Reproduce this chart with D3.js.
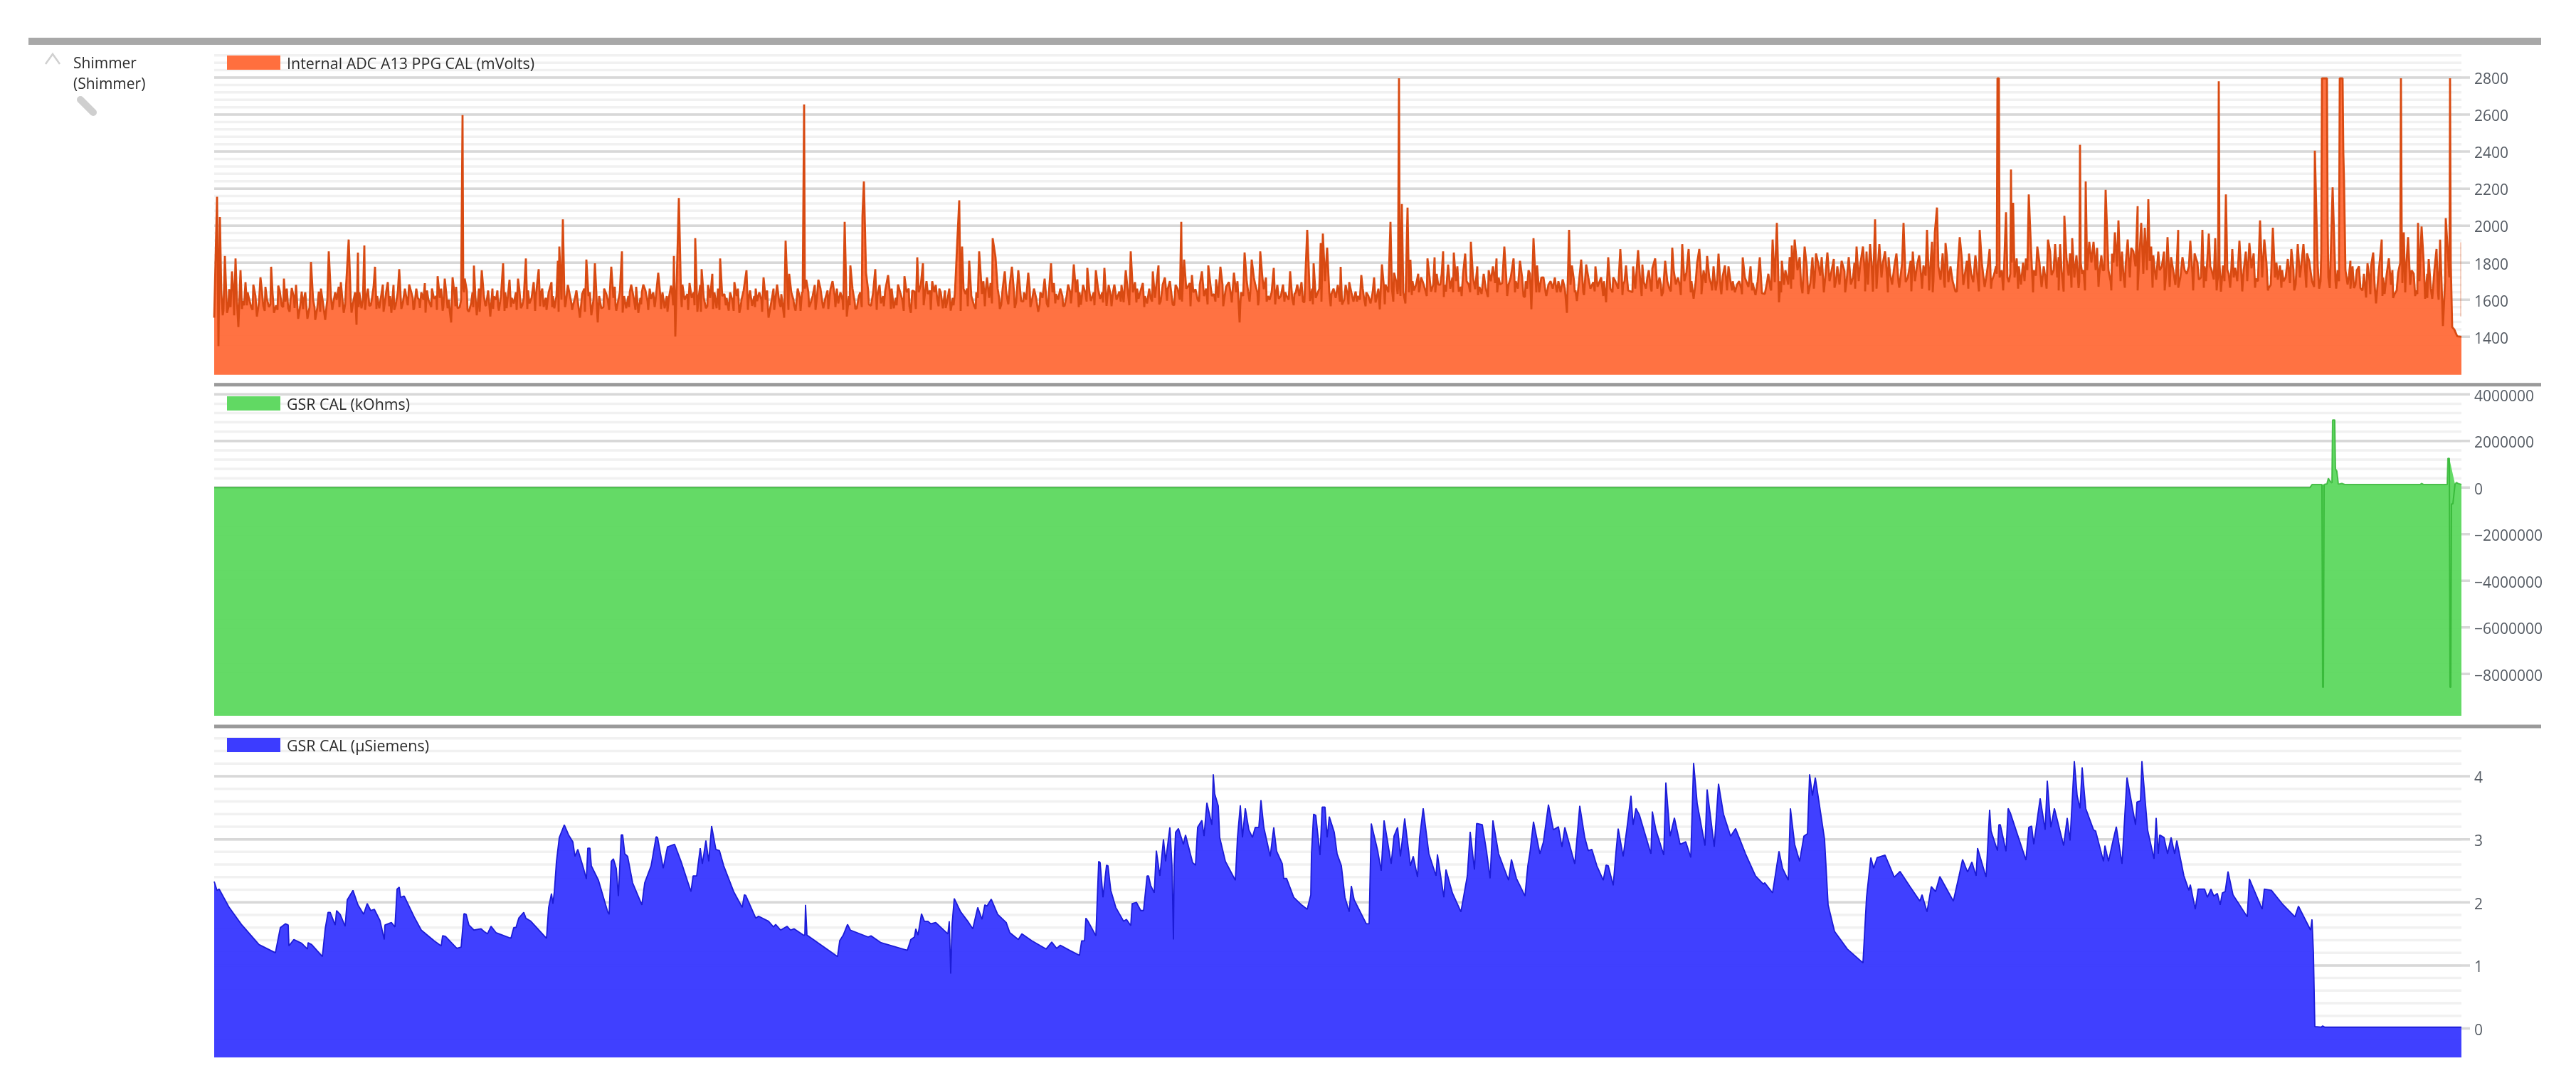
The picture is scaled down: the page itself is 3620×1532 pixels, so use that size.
<!DOCTYPE html>
<html><head><meta charset="utf-8">
<script src="https://cdn.jsdelivr.net/npm/d3@7"></script>
<style>
html,body{margin:0;padding:0;background:#fff;overflow:hidden}
svg{display:block;filter:blur(0.55px)}
text{font-family:"Open Sans","Noto Sans",sans-serif}
</style></head><body>
<svg id="chart" width="3620" height="1532"></svg>
<script>
const deviceLabel = ["Shimmer", "(Shimmer)"];
const ppgLabel = "Internal ADC A13 PPG CAL (mVolts)";
const kohmLabel = "GSR CAL (kOhms)";
const siemensLabel = "GSR CAL (µSiemens)";
const ppgTicks = [2800,2600,2400,2200,2000,1800,1600,1400];
const kohmTicks = [4000000,2000000,0,-2000000,-4000000,-6000000,-8000000];
const siemensTicks = [4,3,2,1,0];
const ppgEndTrace = [[3157,1510],[3157,1910]];

const ppgPeaks = [[0,1503],[4,2156],[6,1349],[8,2047],[12,1516],[15,1836],[18,1529],[21,1657],[25,1753],[28,1516],[30,1823],[34,1452],[37,1759],[40,1593],[44,1695],[49,1605],[55,1682],[60,1509],[65,1721],[69,1567],[74,1605],[80,1778],[84,1529],[90,1676],[95,1567],[98,1714],[104,1554],[109,1663],[118,1497],[123,1644],[131,1497],[136,1804],[142,1491],[147,1644],[156,1491],[161,1861],[167,1573],[172,1599],[178,1695],[182,1529],[189,1925],[195,1580],[200,1465],[202,1855],[207,1554],[211,1893],[218,1567],[226,1778],[232,1554],[237,1682],[244,1695],[249,1529],[260,1765],[265,1580],[274,1682],[281,1554],[288,1599],[296,1689],[303,1580],[309,1605],[314,1727],[321,1541],[324,1714],[328,1554],[333,1477],[335,1721],[342,1554],[349,2597],[352,1714],[358,1535],[365,1784],[369,1516],[376,1759],[382,1567],[388,1509],[393,1618],[400,1541],[406,1797],[411,1554],[415,1708],[421,1580],[427,1714],[431,1554],[438,1823],[443,1580],[449,1695],[456,1765],[463,1561],[474,1695],[478,1554],[483,1810],[485,1887],[490,2034],[494,1580],[502,1580],[509,1650],[514,1503],[523,1817],[530,1516],[535,1797],[539,1477],[544,1554],[551,1631],[558,1778],[565,1541],[573,1861],[579,1554],[586,1682],[596,1529],[603,1682],[614,1605],[624,1746],[633,1554],[642,1676],[646,1836],[648,1401],[653,2149],[658,1682],[665,1631],[676,1932],[679,1535],[685,1765],[691,1554],[700,1740],[706,1554],[711,1823],[717,1631],[723,1541],[731,1695],[738,1529],[748,1759],[756,1567],[763,1593],[772,1721],[779,1503],[791,1682],[801,1503],[803,1919],[808,1740],[817,1541],[829,2655],[832,1708],[838,1580],[849,1708],[856,1554],[866,1657],[877,1580],[886,2021],[889,1509],[894,1785],[903,1554],[911,2053],[913,2239],[916,1746],[923,1567],[929,1765],[937,1580],[947,1733],[955,1554],[961,1682],[970,1727],[979,1529],[984,1644],[988,1829],[996,1797],[1003,1631],[1016,1605],[1024,1554],[1035,1541],[1044,1893],[1047,2137],[1051,1887],[1056,1631],[1061,1810],[1068,1567],[1075,1861],
[1079,1631],[1086,1721],[1094,1932],[1098,1829],[1106,1573],[1111,1753],[1115,1593],[1121,1778],[1127,1586],[1130,1759],[1134,1593],[1144,1746],[1149,1593],[1158,1535],[1167,1714],[1170,1580],[1176,1797],[1183,1631],[1195,1567],[1200,1682],[1208,1791],[1218,1573],[1227,1772],[1232,1593],[1239,1759],[1245,1605],[1251,1772],[1254,1567],[1265,1682],[1272,1644],[1278,1586],[1281,1759],[1288,1861],[1294,1695],[1299,1605],[1311,1580],[1319,1753],[1327,1785],[1333,1682],[1340,1657],[1347,1573],[1354,1657],[1359,2021],[1363,1817],[1368,1669],[1374,1733],[1379,1657],[1388,1753],[1397,1785],[1405,1631],[1414,1778],[1419,1593],[1426,1695],[1433,1746],[1441,1477],[1448,1855],[1453,1644],[1458,1817],[1463,1682],[1470,1861],[1475,1657],[1483,1599],[1489,1772],[1496,1605],[1502,1682],[1512,1753],[1515,1605],[1522,1682],[1528,1695],[1532,1586],[1536,1977],[1540,1593],[1545,1797],[1550,1631],[1555,1906],[1558,1957],[1564,1881],[1570,1631],[1583,1778],[1585,1573],[1595,1695],[1604,1644],[1612,1733],[1616,1605],[1625,1580],[1630,1721],[1638,1548],[1641,1791],[1646,1682],[1653,2021],[1658,1746],[1663,1631],[1665,2796],[1669,2117],[1674,1580],[1677,2098],[1681,1816],[1689,1682],[1696,1721],[1705,1823],[1710,1644],[1715,1829],[1720,1682],[1727,1861],[1731,1644],[1742,1855],[1749,1644],[1758,1849],[1763,1682],[1766,1913],[1772,1657],[1781,1631],[1791,1759],[1802,1823],[1807,1682],[1813,1887],[1819,1682],[1826,1823],[1835,1810],[1840,1618],[1847,1759],[1851,1548],[1854,1932],[1859,1785],[1868,1721],[1875,1682],[1886,1657],[1901,1529],[1904,1977],[1908,1785],[1915,1593],[1921,1817],[1931,1721],[1938,1695],[1949,1721],[1956,1586],[1959,1829],[1966,1721],[1976,1874],[1980,1682],[1984,1785],[1991,1644],[2001,1868],[2009,1695],[2016,1759],[2025,1823],[2033,1682],[2039,1810],[2049,1881],[2054,1682],[2063,1900],[2072,1874],[2079,1605],[2087,1874],[2093,1759],[2098,1836],[2110,1650],[2114,1849],[2123,1785],[2131,1695],[2140,1682],[2148,1829],[2156,1669],[2166,1625],[2172,1829],
[2179,1631],[2184,1740],[2190,1925],[2193,1695],[2196,2015],[2199,1586],[2203,1810],[2208,1759],[2212,1682],[2217,1893],[2221,1925],[2225,1759],[2230,1682],[2235,1887],[2240,1631],[2246,1829],[2254,1797],[2261,1708],[2267,1855],[2273,1759],[2284,1682],[2291,1753],[2300,1682],[2308,1887],[2313,1785],[2317,1887],[2324,1682],[2327,1900],[2331,1644],[2334,2034],[2340,1900],[2348,1861],[2358,1682],[2364,1849],[2370,1733],[2374,2015],[2377,1695],[2384,1810],[2393,1785],[2402,1785],[2407,1977],[2410,1650],[2414,1913],[2418,1964],[2421,2098],[2426,1708],[2433,1906],[2437,1695],[2447,1644],[2453,1938],[2460,1733],[2466,1849],[2472,1695],[2481,1977],[2488,1669],[2495,1874],[2501,1733],[2506,2796],[2508,2796],[2512,1759],[2518,2073],[2522,1695],[2525,2303],[2528,2124],[2533,1823],[2539,1682],[2546,1823],[2550,2169],[2553,1887],[2557,1759],[2562,1887],[2568,1669],[2577,1925],[2582,1733],[2587,1900],[2594,1900],[2599,1644],[2600,2053],[2603,1823],[2611,1932],[2620,1663],[2622,2437],[2627,1759],[2630,2239],[2635,1913],[2641,1913],[2649,1733],[2654,1759],[2658,2194],[2662,1759],[2667,1849],[2671,1964],[2676,2028],[2683,1733],[2689,1925],[2697,1861],[2703,2105],[2708,2015],[2713,1989],[2718,2143],[2722,1887],[2729,1708],[2734,1759],[2745,1938],[2748,1669],[2753,1759],[2760,1977],[2769,1759],[2777,1919],[2785,1823],[2789,1708],[2794,1977],[2801,1823],[2803,1957],[2807,1759],[2812,1932],[2817,2780],[2820,1644],[2823,1785],[2827,2169],[2831,1740],[2836,1874],[2840,1772],[2846,1919],[2852,1759],[2860,1906],[2869,1714],[2875,2028],[2881,1925],[2887,1663],[2893,1989],[2900,1708],[2903,1785],[2911,1721],[2919,1874],[2925,1682],[2928,1900],[2936,1900],[2944,1810],[2951,1669],[2952,2405],[2956,1785],[2962,2796],[2969,2796],[2973,1663],[2977,2207],[2984,1759],[2987,2796],[2991,2796],[2993,2245],[2998,1682],[3002,1810],[3007,1663],[3011,1759],[3016,1663],[3024,1612],[3026,1797],[3034,1855],[3038,1580],[3046,1925],[3050,1631],[3056,1823],[3064,1631],[3069,1746],[3073,2796],[3077,1964],[3083,1938],[3088,1759],[3096,1631],[3097,2015],[3102,1996],[3107,1605],[3117,1605],[3123,1874],[3128,1925],[3132,1458],[3136,2041],[3142,2796],[3145,1452],[3148,1439],[3152,1403],[3158,1400]];

// finer oscillation of the trace between the main peaks, estimated from the zoomed picture
const ppgDetail = [[10,1640],[23,1560],[27,1640],[32,1590],[36,1660],[42,1570],[47,1640],[52,1560],[58,1620],[63,1590],[67,1650],[72,1670],[77,1560],[82,1640],[87,1570],[92,1650],[100,1590],[102,1660],[107,1590],[112,1610],[115,1680],[121,1570],[126,1600],[128,1640],[134,1560],[139,1600],[145,1560],[150,1660],[153,1580],[159,1600],[164,1620],[170,1640],[175,1670],[180,1610],[185,1650],[192,1590],[198,1640],[204,1640],[209,1600],[214,1620],[216,1660],[221,1590],[224,1670],[229,1620],[235,1630],[240,1590],[242,1650],[247,1620],[252,1680],[255,1570],[258,1640],[262,1620],[268,1660],[271,1590],[277,1640],[279,1610],[284,1660],[286,1610],[291,1640],[294,1600],[299,1650],[301,1600],[306,1660],[312,1620],[317,1610],[319,1660],[326,1640],[330,1600],[338,1620],[340,1670],[345,1560],[347,1600],[351,1640],[355,1650],[361,1580],[363,1640],[367,1620],[372,1660],[374,1600],[379,1620],[385,1650],[391,1660],[396,1600],[398,1650],[403,1620],[409,1640],[413,1630],[418,1610],[424,1640],[429,1650],[435,1610],[441,1650],[446,1610],[452,1620],[459,1630],[461,1660],[466,1610],[470,1640],[476,1620],[481,1620],[488,1600],[492,1640],[497,1680],[500,1620],[505,1580],[507,1610],[511,1590],[517,1630],[520,1660],[526,1620],[528,1640],[533,1600],[537,1640],[541,1620],[548,1660],[553,1600],[556,1640],[561,1610],[563,1670],[568,1600],[570,1640],[576,1620],[582,1620],[584,1640],[590,1600],[593,1670],[599,1610],[601,1640],[606,1650],[609,1590],[612,1660],[617,1640],[620,1590],[627,1620],[630,1640],[636,1620],[639,1610],[644,1620],[656,1630],[661,1600],[668,1690],[671,1610],[674,1640],[681,1620],[683,1680],[688,1610],[694,1680],[697,1610],[703,1640],[708,1660],[714,1620],[720,1610],[725,1640],[728,1600],[734,1620],[736,1660],[741,1600],[744,1650],[751,1600],[753,1650],[759,1620],[761,1660],[766,1640],[769,1600],[775,1600],[777,1650],[783,1590],[786,1660],[794,1590],[797,1630],[806,1620],[811,1640],[814,1600],[820,1660],[823,1610],[826,1640],[835,1640],[841,1620],[844,1680],[847,1610],[852,1660],[859,1610],[862,1650],[869,1700],[872,1620],[875,1660],[880,1640],[883,1600],[892,1620],[897,1660],[900,1590],[906,1620],[908,1640],[919,1650],[926,1640],[932,1620],[935,1680],[940,1620],[943,1650],[950,1620],[952,1660],[958,1610],[964,1640],[967,1600],[973,1640],[976,1660],[981,1650],[990,1640],[993,1680],[999,1640],[1001,1700],[1006,1650],[1009,1700],[1012,1640],[1014,1680],[1019,1660],[1021,1640],[1027,1650],[1030,1590],[1033,1660],[1038,1610],[1041,1640],[1053,1660],[1058,1660],[1064,1620],[1071,1640],[1073,1610],
[1081,1700],[1084,1640],[1089,1610],[1091,1690],[1101,1660],[1103,1610],[1108,1660],[1113,1640],[1118,1680],[1124,1640],[1138,1640],[1141,1600],[1146,1660],[1152,1660],[1155,1610],[1161,1640],[1164,1610],[1173,1640],[1178,1640],[1180,1690],[1186,1600],[1189,1660],[1192,1620],[1198,1620],[1203,1640],[1205,1620],[1211,1640],[1213,1710],[1216,1640],[1221,1680],[1224,1640],[1230,1640],[1236,1640],[1242,1660],[1248,1640],[1257,1680],[1260,1620],[1263,1640],[1268,1600],[1275,1680],[1284,1640],[1291,1640],[1297,1660],[1302,1650],[1305,1690],[1308,1620],[1314,1660],[1316,1610],[1322,1610],[1324,1680],[1330,1590],[1336,1720],[1343,1700],[1350,1620],[1351,1680],[1357,1600],[1366,1660],[1371,1690],[1376,1640],[1382,1600],[1385,1680],[1391,1620],[1394,1660],[1400,1680],[1402,1620],[1408,1710],[1411,1610],[1417,1680],[1422,1670],[1429,1620],[1436,1640],[1438,1700],[1443,1640],[1446,1620],[1451,1700],[1456,1640],[1461,1720],[1466,1640],[1468,1600],[1473,1720],[1478,1720],[1481,1620],[1486,1640],[1492,1620],[1494,1680],[1499,1620],[1505,1640],[1507,1620],[1510,1600],[1518,1630],[1520,1640],[1525,1620],[1543,1660],[1548,1610],[1553,1660],[1561,1700],[1567,1640],[1573,1660],[1576,1610],[1579,1680],[1588,1600],[1590,1680],[1593,1620],[1598,1640],[1601,1590],[1607,1620],[1610,1600],[1614,1660],[1619,1640],[1622,1620],[1628,1640],[1633,1600],[1636,1660],[1644,1660],[1650,1640],[1655,1660],[1661,1700],[1667,1620],[1671,1640],[1679,1640],[1684,1700],[1686,1650],[1692,1740],[1694,1660],[1699,1690],[1702,1650],[1708,1720],[1713,1680],[1718,1740],[1723,1680],[1725,1740],[1729,1680],[1734,1790],[1737,1660],[1740,1720],[1745,1700],[1747,1780],[1752,1670],[1755,1740],[1760,1700],[1769,1720],[1775,1780],[1778,1670],[1784,1740],[1787,1660],[1794,1700],[1797,1780],[1800,1690],[1805,1720],[1810,1690],[1816,1700],[1822,1720],[1829,1700],[1832,1660],[1838,1720],[1843,1700],[1845,1660],[1849,1740],[1857,1700],[1862,1640],[1865,1720],[1871,1640],[1878,1700],[1881,1660],[1884,1720],[1889,1700],[1892,1640],[1895,1710],[1898,1660],[1906,1680],[1911,1700],[1913,1650],[1918,1700],[1924,1640],[1928,1790],[1934,1660],[1941,1780],[1944,1670],[1947,1700],[1953,1700],[1962,1660],[1969,1700],[1973,1660],[1978,1740],[1982,1700],[1987,1650],[1994,1780],[1997,1660],[2004,1700],[2007,1790],[2012,1660],[2014,1720],[2019,1660],[2021,1770],[2028,1660],[2031,1720],[2036,1640],[2042,1700],[2045,1660],[2051,1760],[2057,1720],[2060,1670],[2066,1700],[2069,1750],[2076,1700],[2082,1700],[2084,1800],[2090,1700],[2096,1690],[2101,1720],[2104,1680],[2107,1780],[2112,1700],[2117,1660],[2120,1730],[2126,1650],[2128,1780],[2134,1700],[2137,1640],[2143,1700],[2146,1660],[2151,1720],[2153,1700],[2159,1780],[2162,1690],[2169,1700],
[2182,1690],[2187,1660],[2201,1700],[2206,1680],[2214,1830],[2219,1710],[2228,1830],[2233,1720],[2238,1780],[2243,1690],[2249,1700],[2251,1850],[2257,1730],[2259,1830],[2264,1720],[2270,1700],[2276,1820],[2279,1700],[2281,1780],[2287,1810],[2294,1700],[2297,1830],[2303,1720],[2305,1800],[2311,1700],[2320,1720],[2322,1860],[2329,1800],[2337,1720],[2343,1720],[2345,1800],[2351,1720],[2353,1830],[2355,1740],[2361,1780],[2367,1690],[2372,1800],[2380,1720],[2387,1860],[2390,1700],[2396,1840],[2399,1720],[2405,1730],[2412,1800],[2416,1700],[2423,1780],[2429,1850],[2431,1690],[2435,1830],[2440,1780],[2443,1700],[2450,1760],[2456,1820],[2458,1680],[2463,1810],[2469,1740],[2475,1840],[2478,1720],[2484,1800],[2491,1740],[2493,1800],[2498,1700],[2504,1780],[2515,1740],[2520,1720],[2530,1720],[2536,1780],[2542,1800],[2544,1700],[2548,1760],[2555,1720],[2560,1730],[2565,1800],[2571,1780],[2574,1700],[2580,1860],[2585,1760],[2590,1720],[2592,1830],[2596,1760],[2606,1730],[2608,1850],[2614,1720],[2617,1840],[2625,1740],[2632,1760],[2638,1800],[2644,1760],[2646,1880],[2652,1840],[2656,1760],[2665,1700],[2669,1800],[2674,1780],[2679,1700],[2681,1860],[2686,1780],[2692,1720],[2694,1880],[2700,1780],[2705,1800],[2711,1740],[2716,1760],[2720,1810],[2725,1840],[2727,1760],[2732,1860],[2737,1780],[2740,1860],[2743,1740],[2750,1830],[2756,1680],[2758,1800],[2763,1720],[2766,1830],[2772,1740],[2775,1780],[2780,1740],[2783,1850],[2787,1800],[2792,1720],[2797,1780],[2799,1700],[2805,1780],[2810,1710],[2815,1700],[2825,1700],[2829,1760],[2834,1720],[2838,1720],[2843,1700],[2849,1720],[2855,1860],[2857,1700],[2863,1770],[2866,1850],[2872,1700],[2878,1720],[2884,1800],[2890,1680],[2896,1720],[2898,1800],[2906,1760],[2908,1700],[2914,1820],[2917,1690],[2922,1760],[2931,1720],[2933,1790],[2939,1720],[2941,1850],[2948,1700],[2960,1700],[2971,1720],[2981,1700],[2986,1700],[2995,1760],[3000,1730],[3005,1780],[3009,1680],[3014,1780],[3019,1650],[3021,1740],[3029,1700],[3031,1780],[3036,1680],[3041,1720],[3043,1800],[3048,1720],[3053,1740],[3059,1680],[3061,1760],[3067,1650],[3075,1690],[3080,1750],[3086,1680],[3091,1740],[3094,1650],[3099,1700],[3105,1800],[3110,1740],[3112,1820],[3115,1660],[3120,1760],[3125,1640],[3130,1700],[3135,1700],[3141,1720],
[347,1640],[350,1660],[827,1640],[830,1660],[1663.5,1660],[1666,1700],[2505,1740],[2509,1720],[2524,1740],[2526,1800],[2621,1700],[2623,1800],[2816,1720],[2818,1800],[2961,1850],[2970,2000],[2986,1860],[2992,2400],[3072,1800],[3074,2000],[3141.5,2050],[3143,1800]];

// the lower edge of the noisy band, estimated from the zoomed picture
const ppgDips = [[13,1540],[20,1560],[39,1550],[46,1570],[54,1545],[62,1560],[71,1540],[79,1575],[89,1545],[97,1560],[106,1535],[113,1555],[125,1550],[133,1540],[141,1560],[149,1535],[158,1570],[166,1545],[176,1560],[184,1575],[193,1530],[203,1560],[212,1545],[220,1570],[228,1550],[238,1535],[246,1565],[253,1545],[263,1550],[272,1570],[280,1545],[289,1555],[297,1530],[305,1560],[313,1545],[322,1560],[331,1540],[339,1565],[356,1545],[364,1560],[373,1535],[381,1570],[392,1550],[399,1565],[408,1540],[417,1560],[425,1545],[433,1570],[440,1550],[451,1540],[458,1565],[467,1545],[475,1560],[484,1535],[493,1560],[503,1545],[512,1560],[521,1535],[529,1570],[538,1545],[547,1560],[555,1545],[564,1570],[574,1530],[583,1560],[592,1545],[600,1575],[610,1545],[619,1560],[628,1550],[637,1535],[645,1570],[657,1560],[666,1545],[675,1570],[684,1535],[693,1565],[701,1550],[710,1545],[719,1570],[730,1540],[740,1565],[750,1545],[760,1560],[770,1535],[778,1570],[787,1545],[796,1560],[807,1545],[815,1570],[824,1540],[836,1560],[845,1545],[855,1575],[863,1550],[873,1560],[884,1545],[893,1570],[901,1550],[910,1560],[920,1575],[931,1545],[941,1565],[951,1550],[959,1570],[969,1540],[977,1565],[986,1550],[997,1570],[1007,1545],[1018,1565],[1028,1555],[1039,1570],[1049,1540],[1059,1565],[1070,1550],[1083,1565],[1093,1580],[1104,1550],[1116,1575],[1125,1555],[1137,1590],[1147,1560],[1160,1575],[1172,1560],[1182,1580],[1193,1565],[1204,1580],[1215,1560],[1226,1590],[1237,1570],[1249,1585],[1261,1565],[1274,1590],[1286,1570],[1296,1585],[1307,1560],[1318,1590],[1328,1575],[1339,1595],[1349,1570],[1360,1590],[1372,1565],[1384,1590],[1396,1575],[1407,1590],[1418,1565],[1430,1585],[1442,1575],[1455,1590],[1467,1570],[1479,1590],[1491,1575],[1504,1590],[1517,1570],[1530,1590],[1544,1575],[1556,1590],[1569,1565],[1582,1590],[1594,1575],[1606,1590],[1618,1565],[1632,1585],[1645,1575],[1657,1590],[1683,1625],[1693,1640],[1704,1620],[1716,1640],[1728,1615],[1741,1640],[1753,1620],[1765,1640],[1776,1625],[1790,1615],[1803,1640],[1817,1620],[1828,1640],[1842,1615],[1858,1640],[1872,1620],[1887,1640],[1899,1620],[1912,1640],[1925,1625],[1940,1645],[1952,1620],[1965,1640],[1979,1625],[1993,1640],[2006,1620],[2020,1645],[2034,1620],[2047,1645],[2061,1625],[2075,1640],[2090,1630],[2105,1650],[2118,1630],[2133,1650],[2147,1630],[2161,1650],[2175,1635],[2188,1650],[2202,1640],[2216,1660],[2232,1635],[2248,1660],[2262,1640],[2277,1665],[2292,1640],[2306,1660],[2320,1645],[2336,1660],[2352,1640],[2368,1665],[2385,1645],[2400,1660],[2415,1640],[2432,1665],[2449,1645],[2465,1660],[2480,1645],[2497,1660],[2514,1650],[2535,1660],[2556,1640],[2575,1660],[2592,1650],[2610,1665],[2629,1650],[2648,1670],[2666,1650],[2685,1665],[2703,1650],[2724,1665],[2741,1650],[2760,1665],[2781,1650],[2796,1665],[2814,1650],[2833,1665],[2850,1645],[2868,1665],[2886,1650],[2905,1665],[2923,1650],[2940,1665],[2958,1660],[2982,1660],[3002,1660],[3030,1630],[3047,1620],[3062,1610],[3079,1640],[3093,1620],[3110,1610],[3126,1600]];

const ppgSamples = d3.sort(d3.merge([ppgPeaks, ppgDetail, ppgDips]), d => d[0]);

const kohmSamples = [[0,0],[2945,0],[2948,130000],[2962,130000],[2963,-8570000],[2964,-8570000],[2965,130000],[2969,160000],[2971,400000],[2973,300000],[2976,200000],[2977,2900000],[2980,2900000],[2981,800000],[2983,700000],[2985,150000],[2990,180000],[2994,130000],[3100,130000],[3102,180000],[3105,130000],[3138,130000],[3139,1250000],[3141,1250000],[3142,-8570000],[3143,-8570000],[3144,-700000],[3146,-700000],[3149,150000],[3151,220000],[3153,180000],[3158,130000]];

const siemensSamples = [[0,2.33],[4,2.19],[7,2.21],[21,1.92],[39,1.64],[63,1.33],[86,1.20],[93,1.60],[100,1.66],[104,1.64],[105,1.31],[112,1.41],[123,1.35],[131,1.26],[132,1.36],[137,1.33],[152,1.14],[156,1.58],[160,1.84],[163,1.84],[170,1.64],[172,1.87],[177,1.81],[184,1.62],[187,2.04],[195,2.19],[202,1.96],[210,1.81],[215,1.98],[220,1.87],[225,1.89],[233,1.71],[239,1.41],[240,1.64],[249,1.68],[254,1.61],[257,2.21],[260,2.24],[262,2.08],[267,2.10],[281,1.77],[291,1.56],[309,1.39],[319,1.31],[321,1.47],[325,1.46],[341,1.27],[347,1.29],[351,1.82],[354,1.81],[358,1.64],[365,1.56],[375,1.58],[379,1.54],[384,1.50],[389,1.62],[396,1.52],[417,1.43],[421,1.60],[424,1.60],[428,1.75],[435,1.84],[438,1.75],[445,1.70],[467,1.43],[470,1.92],[474,2.14],[476,1.98],[478,2.17],[481,2.65],[485,3.03],[492,3.23],[498,3.07],[504,2.96],[507,2.73],[511,2.84],[519,2.54],[523,2.37],[525,2.86],[528,2.86],[530,2.58],[540,2.35],[553,1.85],[555,1.81],[558,2.65],[561,2.69],[565,2.54],[568,2.10],[572,3.07],[574,3.07],[577,2.77],[581,2.73],[588,2.31],[601,1.96],[605,2.31],[614,2.58],[621,3.04],[623,3.03],[631,2.54],[637,2.88],[647,2.92],[656,2.65],[670,2.17],[673,2.42],[678,2.42],[683,2.86],[686,2.61],[691,2.98],[695,2.65],[699,3.21],[705,2.84],[710,2.82],[716,2.58],[730,2.17],[742,1.92],[745,2.12],[747,2.11],[761,1.75],[765,1.78],[779,1.70],[786,1.61],[789,1.65],[796,1.56],[805,1.62],[810,1.56],[815,1.58],[828,1.48],[830,1.48],[831,1.96],[833,1.48],[876,1.14],[879,1.39],[884,1.48],[890,1.65],[894,1.56],[919,1.45],[923,1.47],[937,1.36],[974,1.24],[979,1.41],[984,1.45],[986,1.58],[989,1.48],[994,1.82],[998,1.70],[1003,1.70],[1007,1.66],[1014,1.68],[1031,1.50],[1033,1.70],[1035,0.87],[1037,1.66],[1040,2.06],[1049,1.85],[1059,1.70],[1066,1.58],[1073,1.92],
[1079,1.73],[1083,1.96],[1086,1.94],[1092,2.05],[1101,1.81],[1113,1.68],[1118,1.52],[1130,1.41],[1135,1.50],[1149,1.39],[1169,1.26],[1177,1.37],[1184,1.27],[1189,1.32],[1202,1.24],[1216,1.16],[1219,1.39],[1223,1.39],[1225,1.75],[1228,1.70],[1239,1.47],[1243,2.65],[1245,2.63],[1249,2.08],[1254,2.59],[1256,2.58],[1260,2.19],[1267,1.92],[1278,1.70],[1282,1.73],[1288,1.63],[1290,1.98],[1296,2.00],[1302,1.87],[1306,1.87],[1311,2.42],[1313,2.42],[1316,2.27],[1321,2.15],[1324,2.82],[1329,2.42],[1334,3.00],[1337,2.65],[1343,3.19],[1346,2.58],[1348,1.41],[1349,2.58],[1351,3.11],[1355,3.17],[1362,2.92],[1365,3.07],[1375,2.63],[1379,2.59],[1382,3.19],[1388,3.30],[1391,3.05],[1395,3.58],[1402,3.23],[1404,4.03],[1406,3.72],[1411,3.53],[1413,3.03],[1421,2.65],[1435,2.35],[1438,3.03],[1442,3.54],[1445,3.03],[1449,3.49],[1454,3.15],[1459,3.03],[1463,3.19],[1468,3.19],[1471,3.62],[1475,3.19],[1484,2.73],[1489,3.19],[1493,2.81],[1501,2.61],[1503,2.38],[1507,2.38],[1517,2.08],[1528,1.96],[1536,1.89],[1541,2.12],[1542,2.77],[1545,3.40],[1548,3.38],[1554,2.75],[1557,3.51],[1561,3.51],[1564,3.03],[1567,3.36],[1574,3.11],[1578,2.77],[1584,2.58],[1589,2.08],[1595,1.85],[1598,2.26],[1602,2.04],[1619,1.66],[1623,1.66],[1626,3.25],[1635,2.82],[1640,2.50],[1644,3.30],[1649,2.96],[1654,2.61],[1658,3.05],[1663,3.19],[1667,2.73],[1673,3.33],[1681,2.58],[1685,2.73],[1691,2.40],[1694,3.03],[1699,3.49],[1707,2.77],[1717,2.42],[1719,2.76],[1728,2.08],[1731,2.52],[1740,2.15],[1752,1.85],[1761,2.42],[1765,3.12],[1771,2.52],[1774,3.25],[1782,3.23],[1788,2.81],[1793,2.38],[1797,3.30],[1805,2.77],[1819,2.35],[1823,2.68],[1830,2.38],[1842,2.10],[1846,2.58],[1849,2.79],[1854,3.28],[1863,2.77],[1868,2.96],[1875,3.55],[1882,3.15],[1889,3.20],[1894,2.88],[1898,3.19],[1912,2.61],[1919,3.53],[1926,3.03],[1931,2.82],[1936,2.84],[1943,2.58],[1952,2.35],[1956,2.59],[1959,2.58],[1966,2.27],[1970,2.81],[1973,3.17],[1980,2.73],[1985,3.15],[1991,3.69],[1994,3.23],[1998,3.49],[2003,3.38],[2019,2.77],[2021,3.44],[2026,3.15],[2037,2.75],[2040,3.90],[2046,3.05],[2052,3.34],[2060,2.92],[2068,2.96],[2075,2.71],[2079,4.21],[2084,3.57],[2095,2.90],[2098,3.79],[2108,2.88],[2114,3.88],[2121,3.40],[2131,3.05],[2138,3.17],[2152,2.77],[2166,2.42],[2177,2.29],
[2179,2.31],[2190,2.15],[2199,2.81],[2204,2.54],[2212,2.35],[2215,3.49],[2221,2.92],[2228,2.65],[2234,3.05],[2239,3.09],[2242,4.03],[2246,3.69],[2250,3.98],[2258,3.38],[2263,3.00],[2268,1.96],[2277,1.54],[2295,1.26],[2317,1.04],[2322,2.08],[2328,2.71],[2332,2.54],[2337,2.71],[2348,2.75],[2361,2.40],[2369,2.49],[2383,2.25],[2397,2.02],[2400,2.12],[2407,1.85],[2413,2.25],[2419,2.17],[2425,2.41],[2444,2.02],[2452,2.42],[2457,2.68],[2464,2.48],[2470,2.64],[2476,2.42],[2478,2.86],[2490,2.40],[2495,3.47],[2497,3.13],[2506,2.82],[2508,3.23],[2510,3.23],[2518,2.81],[2521,3.49],[2524,3.42],[2546,2.67],[2550,3.19],[2554,3.21],[2557,2.92],[2566,3.65],[2573,3.15],[2576,3.93],[2581,3.19],[2586,3.49],[2599,2.90],[2604,3.34],[2608,2.98],[2614,4.24],[2618,3.69],[2622,3.49],[2625,4.14],[2630,3.49],[2641,3.15],[2644,3.13],[2655,2.65],[2657,2.90],[2662,2.65],[2668,2.96],[2673,3.20],[2681,2.61],[2688,3.98],[2700,3.23],[2702,3.59],[2707,3.61],[2709,4.24],[2717,3.15],[2726,2.69],[2729,3.34],[2732,2.77],[2734,3.07],[2740,3.03],[2745,2.77],[2750,3.03],[2755,2.77],[2758,2.98],[2768,2.42],[2775,2.19],[2777,2.28],[2784,1.89],[2788,2.21],[2797,2.21],[2801,2.08],[2806,2.21],[2810,2.10],[2815,2.14],[2819,1.96],[2822,2.15],[2826,2.17],[2830,2.49],[2837,2.12],[2857,1.77],[2860,2.37],[2878,1.89],[2881,2.21],[2891,2.19],[2906,1.98],[2924,1.77],[2929,1.94],[2946,1.56],[2948,1.73],[2950,1.20],[2952,0.03],[2961,0.02],[2963,0.04],[2966,0.02],[3158,0.02]];

const svg = d3.select("#chart");
const x = d3.scaleLinear().domain([0, 3158]).range([301, 3459]);
const ruleRight = 3571;

function panel(cfg) {
  const g = svg.append("g");
  const y = d3.scaleLinear().domain(cfg.domain).range(cfg.range);
  g.append("g").selectAll("line").data(cfg.minor).join("line")
    .attr("x1", x.range()[0]).attr("x2", x.range()[1])
    .attr("y1", y).attr("y2", y)
    .attr("stroke", "#f1f1f1").attr("stroke-width", 3.5);
  const axis = d3.axisRight(y).tickValues(cfg.ticks).tickSize(0).tickPadding(0).tickFormat(d3.format("d"));
  const ax = g.append("g").attr("transform", `translate(${x.range()[1]},0)`).call(axis);
  ax.select(".domain").remove();
  ax.selectAll("line").remove();
  ax.selectAll("text")
    .attr("x", 18).attr("dy", "0.42em")
    .attr("font-size", 21).attr("fill", "#555b63").style("font-family", '"Open Sans"');
  g.append("g").selectAll("line").data(cfg.ticks).join("line")
    .attr("x1", x.range()[0]).attr("x2", x.range()[1] + 12)
    .attr("y1", y).attr("y2", y)
    .attr("stroke", "#d8d8d8").attr("stroke-width", 3.5);
  const area = d3.area().x(d => x(d[0])).y0(y(cfg.base)).y1(d => y(d[1]));
  const line = d3.line().x(d => x(d[0])).y(d => y(d[1]));
  const filled = cfg.samples.filter(d => d[1] >= cfg.fillFloor);
  g.append("path").datum(filled).attr("d", area).attr("fill", cfg.fill).attr("fill-opacity", .98);
  if (cfg.trace) g.append("path").datum(cfg.trace).attr("d", line)
    .attr("stroke", cfg.stroke).attr("stroke-opacity", .35).attr("stroke-width", 1.5).attr("fill", "none");
  g.append("path").datum(cfg.samples).attr("d", line)
    .attr("fill", "none").attr("stroke", cfg.stroke).attr("stroke-opacity", cfg.so).attr("stroke-width", cfg.sw).attr("stroke-linejoin", "bevel");
  g.append("rect").attr("x", 319).attr("y", cfg.legendY).attr("width", 75).attr("height", 20).attr("fill", cfg.fill);
  g.append("text").attr("x", 403).attr("y", cfg.legendY + 11).attr("dy", "0.36em")
    .attr("font-size", 21).attr("fill", "#2b2b2b")
    .attr("textLength", cfg.labelW).attr("lengthAdjust", "spacingAndGlyphs").text(cfg.label);
}

panel({domain:[1400,2800], range:[473.3,109], base:1195, fillFloor:1195, ticks:ppgTicks,
  minor:d3.range(1240,2921,40), samples:ppgSamples, trace:ppgEndTrace,
  fill:"#ff6f3e", stroke:"#d84a12", so:1, sw:2.8, legendY:78, label:ppgLabel, labelW:348});
panel({domain:[-8000000,4000000], range:[947.3,554.3], base:-9790000, fillFloor:-100000, ticks:kohmTicks,
  minor:d3.range(-9600000,4000001,400000), samples:kohmSamples,
  fill:"#61d963", stroke:"#2fb331", so:.8, sw:2, legendY:557, label:kohmLabel, labelW:173});
panel({domain:[0,4], range:[1445.5,1091], base:-0.46, fillFloor:-0.46, ticks:siemensTicks,
  minor:d3.range(-0.4,4.61,0.2), samples:siemensSamples,
  fill:"#3c3cff", stroke:"#1c1cd6", so:1, sw:1.8, legendY:1037, label:siemensLabel, labelW:200});

// horizontal rules between the panels
svg.append("rect").attr("x",40).attr("y",53).attr("width",ruleRight-40).attr("height",10).attr("fill","#a8a8a8");
[540.7,1021].forEach(r => svg.append("rect").attr("x",301).attr("y",r-2.5).attr("width",ruleRight-301).attr("height",5).attr("fill","#9a9a9a"));

// device label and icons
svg.selectAll(".dev").data(deviceLabel).join("text").attr("class","dev")
  .attr("x",103).attr("y",(d,i)=>88+i*29).attr("dy","0.36em")
  .attr("font-size",21).attr("fill","#2b2b2b").text(d=>d);
svg.append("path").attr("d",d3.line()([[64,90],[74,76],[84,90]])).attr("fill","none").attr("stroke","#d0d0d0").attr("stroke-width",2.5);
svg.append("path").attr("d",d3.line()([[113,140],[131,158]])).attr("fill","none").attr("stroke","#cfcfcf").attr("stroke-width",10).attr("stroke-linecap","round");
</script>
</body></html>
